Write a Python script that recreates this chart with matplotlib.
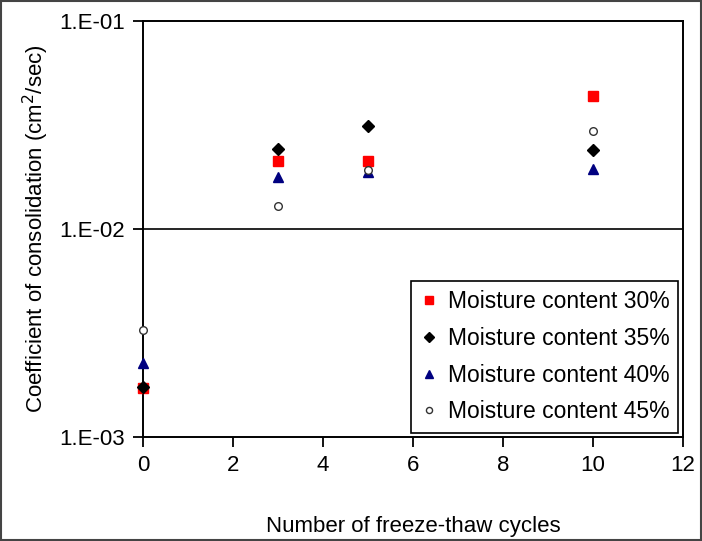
import math
import matplotlib
matplotlib.use('Agg')
import matplotlib.pyplot as plt
from matplotlib.ticker import FixedLocator, FuncFormatter, NullLocator
from matplotlib.patches import Rectangle

plt.rcParams['font.family'] = ['Liberation Sans', 'DejaVu Sans']

cycles = [0, 3, 5, 10]
mc30 = [1.73e-3, 2.12e-2, 2.12e-2, 4.37e-2]
mc35 = [1.75e-3, 2.44e-2, 3.14e-2, 2.41e-2]
mc40 = [2.26e-3, 1.79e-2, 1.89e-2, 1.95e-2]
mc45 = [3.28e-3, 1.29e-2, 1.93e-2, 2.97e-2]
labels = ['Moisture content 30%', 'Moisture content 35%',
          'Moisture content 40%', 'Moisture content 45%']

fig = plt.figure(figsize=(7.02, 5.41), dpi=100)
ax = fig.add_axes([0.204, 0.192, 0.769, 0.769])

ax.plot(cycles, mc30, 's', color='red', ms=6.5, mec='red', ls='none',
        label=labels[0], clip_on=False, zorder=3)
ax.plot(cycles, mc35, 'D', color='black', ms=6.5, ls='none',
        label=labels[1], clip_on=False, zorder=4)
ax.plot(cycles, mc40, '^', color='#000080', ms=7.5, ls='none',
        label=labels[2], clip_on=False, zorder=3)
ax.plot(cycles, mc45, 'o', mfc='white', mec='#333333', ms=5.5, mew=1,
        ls='none', label=labels[3], clip_on=False, zorder=3)

ax.set_yscale('log')
ax.set_ylim(1e-3, 1e-1)
ax.set_xlim(0, 12)
ax.set_xticks(range(0, 13, 2))
ax.yaxis.set_major_locator(FixedLocator([1e-3, 1e-2, 1e-1]))
ax.yaxis.set_minor_locator(NullLocator())
ax.yaxis.set_major_formatter(FuncFormatter(lambda v, p: '1.E-%02d' % round(-math.log10(v))))
ax.axhline(1e-2, color='black', lw=1.2, zorder=1)

for s in ax.spines.values():
    s.set_linewidth(1.4)
ax.tick_params(axis='both', direction='out', length=7, width=1.3,
               labelsize=16, pad=6, color='black')

ax.set_xlabel('Number of freeze-thaw cycles', fontsize=16, labelpad=29)
ax.set_ylabel('Coefficient of consolidation (cm$^2$/sec)', fontsize=16, labelpad=6)

leg = ax.legend(loc='lower right', fontsize=16.5, frameon=True, fancybox=False,
                edgecolor='black', framealpha=1, handlelength=0.8,
                handletextpad=0.4, labelspacing=0.6, borderpad=0.4,
                borderaxespad=0.2, markerscale=0.8)
leg.get_frame().set_linewidth(1.2)

fig.patches.append(Rectangle((0.002, 0.002), 0.996, 0.996, transform=fig.transFigure,
                             fill=False, edgecolor='#444444', lw=1.5))

fig.savefig('out.png', dpi=100)
